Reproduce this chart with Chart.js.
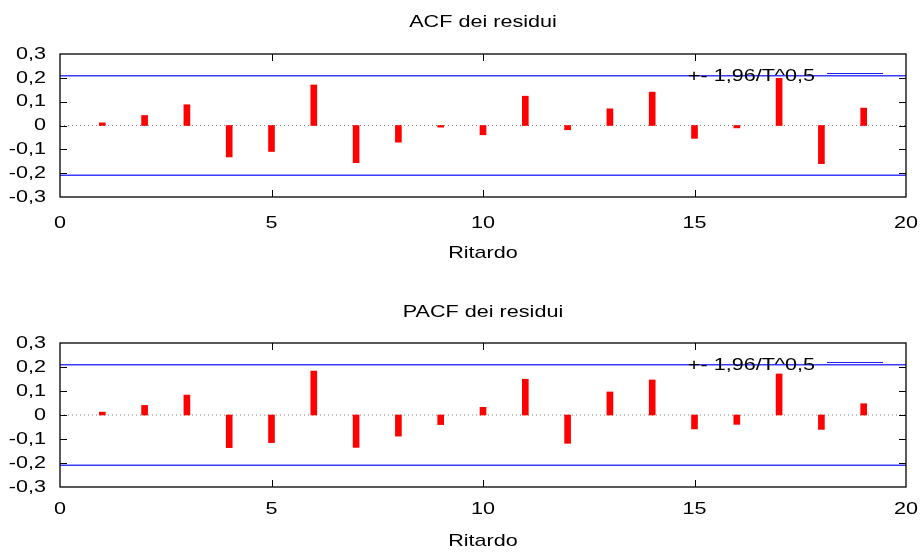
<!DOCTYPE html>
<html>
<head>
<meta charset="utf-8">
<title>ACF / PACF dei residui</title>
<script src="https://cdn.jsdelivr.net/npm/chart.js@4.4.1/dist/chart.umd.min.js"></script>
<style>
  html, body { margin: 0; padding: 0; background: #fff; }
  .box { position: relative; width: 923px; height: 276px; }
</style>
</head>
<body>
<div class="box"><canvas id="acfChart"></canvas></div>
<div class="box"><canvas id="pacfChart"></canvas></div>
<script>
const lags = [1, 2, 3, 4, 5, 6, 7, 8, 9, 10, 11, 12, 13, 14, 15, 16, 17, 18, 19];
const acfValues = [0.011, 0.042, 0.087, -0.132, -0.109, 0.170, -0.156, -0.070, -0.007, -0.039,
                   0.123, -0.018, 0.070, 0.140, -0.054, -0.010, 0.198, -0.160, 0.073];
const pacfValues = [0.012, 0.040, 0.083, -0.136, -0.115, 0.183, -0.135, -0.088, -0.040, 0.032,
                    0.149, -0.118, 0.096, 0.146, -0.058, -0.039, 0.171, -0.060, 0.047];
const bandValue = 0.209; // 1,96/sqrt(T)

const xTicks = [0, 5, 10, 15, 20];
const yTicks = [-0.3, -0.2, -0.1, 0, 0.1, 0.2, 0.3];
const yTickLabels = ['-0,3', '-0,2', '-0,1', '0', '0,1', '0,2', '0,3'];
const legendText = '+- 1,96/T^0,5';
const xTitle = 'Ritardo';

const FONT = 'Liberation Sans, Arial, Helvetica, sans-serif';
const FONT_SIZE = 17;
const TEXT_STRETCH = 1.27;
const BLUE = 'rgb(60, 60, 255)';

// il testo nel riferimento e' piu' largo del normale: allargo i glifi attorno al punto di ancoraggio
function stretchText(canvas, sx) {
  const ctx = canvas.getContext('2d');
  const fill = CanvasRenderingContext2D.prototype.fillText;
  ctx.fillText = function (text, x, y) {
    this.save();
    this.translate(x, y);
    this.scale(sx, 1);
    fill.call(this, text, 0, 0);
    this.restore();
  };
}

// bordo, tacche interne, titolo, legenda e titolo asse disegnati come in gnuplot
const framePlugin = {
  id: 'frame',
  afterDraw(chart, args, opts) {
    const ctx = chart.ctx;
    const a = chart.chartArea;
    const xs = chart.scales.x;
    const ys = chart.scales.y;
    const tick = 7;

    ctx.save();
    ctx.strokeStyle = '#000';
    ctx.lineWidth = 1;
    ctx.beginPath();
    xTicks.slice(1, -1).forEach(v => {
      const px = Math.round(xs.getPixelForValue(v)) + 0.5;
      ctx.moveTo(px, a.top); ctx.lineTo(px, a.top + tick);
      ctx.moveTo(px, a.bottom); ctx.lineTo(px, a.bottom - tick);
    });
    yTicks.slice(1, -1).forEach(v => {
      const py = Math.round(ys.getPixelForValue(v)) + 0.5;
      ctx.moveTo(a.left, py); ctx.lineTo(a.left + tick, py);
      ctx.moveTo(a.right, py); ctx.lineTo(a.right - tick, py);
    });
    ctx.stroke();
    ctx.lineWidth = 1.3;
    ctx.strokeRect(a.left, a.top, a.right - a.left, a.bottom - a.top);

    ctx.fillStyle = '#000';
    ctx.font = FONT_SIZE + 'px ' + FONT;
    ctx.textBaseline = 'middle';
    ctx.textAlign = 'center';
    const cx = (a.left + a.right) / 2;
    ctx.fillText(opts.title, cx, opts.titleY);
    ctx.fillText(xTitle, cx, a.bottom + opts.xTitleGap);

    // legenda
    ctx.textAlign = 'right';
    ctx.fillText(legendText, a.right - 91, a.top + 22);
    ctx.strokeStyle = 'rgb(30, 30, 230)';
    ctx.lineWidth = 1;
    ctx.beginPath();
    ctx.moveTo(a.right - 79, Math.round(a.top + 19) + 0.5);
    ctx.lineTo(a.right - 23, Math.round(a.top + 19) + 0.5);
    ctx.stroke();
    ctx.restore();
  }
};

function noOverflow(s) {
  s.paddingLeft = 0;
  s.paddingRight = 0;
  s.paddingTop = 0;
  s.paddingBottom = 0;
}

function makeChart(canvasId, values, layout) {
  const canvas = document.getElementById(canvasId);
  stretchText(canvas, TEXT_STRETCH);

  const bars = lags.map((lag, i) => ({ x: lag, y: values[i] }));
  const upper = [{ x: 0, y: bandValue }, { x: 20, y: bandValue }];
  const lower = [{ x: 0, y: -bandValue }, { x: 20, y: -bandValue }];
  const zero = [{ x: 0, y: 0 }, { x: 20, y: 0 }];

  return new Chart(canvas, {
    type: 'bar',
    data: {
      datasets: [
        { type: 'line', data: upper, borderColor: BLUE, borderWidth: 1.5, pointRadius: 0 },
        { type: 'line', data: lower, borderColor: BLUE, borderWidth: 1.5, pointRadius: 0 },
        { data: bars, backgroundColor: '#ff0000', borderWidth: 0, barThickness: 6 },
        { type: 'line', data: zero, borderColor: 'rgb(130,130,130)', borderWidth: 1,
          borderDash: [1, 3], pointRadius: 0 },
      ],
    },
    options: {
      responsive: true,
      maintainAspectRatio: false,
      animation: false,
      devicePixelRatio: 1,
      layout: { padding: { top: layout.top, right: 17, left: 0, bottom: 0 } },
      plugins: {
        legend: { display: false },
        tooltip: { enabled: false },
        frame: { title: layout.title, titleY: layout.titleY, xTitleGap: layout.xTitleGap },
      },
      scales: {
        x: {
          type: 'linear',
          min: 0,
          max: 20,
          offset: false,
          grid: { display: false, drawTicks: false },
          border: { display: false },
          afterBuildTicks: s => { s.ticks = xTicks.map(v => ({ value: v })); },
          afterFit: s => { s.height = layout.axisHeight; noOverflow(s); },
          ticks: {
            color: '#000',
            font: { family: FONT, size: FONT_SIZE },
            padding: layout.tickPad,
            maxRotation: 0,
            autoSkip: false,
            callback: v => String(v),
          },
        },
        y: {
          min: -0.3,
          max: 0.3,
          grid: { display: false, drawTicks: false },
          border: { display: false },
          afterBuildTicks: s => { s.ticks = yTicks.map(v => ({ value: v })); },
          afterFit: s => { s.width = 60; noOverflow(s); },
          ticks: {
            color: '#000',
            font: { family: FONT, size: FONT_SIZE },
            padding: 14,
            autoSkip: false,
            callback: (v, i) => yTickLabels[i],
          },
        },
      },
    },
    plugins: [framePlugin],
  });
}

makeChart('acfChart', acfValues, {
  title: 'ACF dei residui', titleY: 22, top: 54, axisHeight: 79, tickPad: 16, xTitleGap: 56,
});
makeChart('pacfChart', pacfValues, {
  title: 'PACF dei residui', titleY: 36, top: 67, axisHeight: 65, tickPad: 12, xTitleGap: 54,
});
</script>
</body>
</html>
